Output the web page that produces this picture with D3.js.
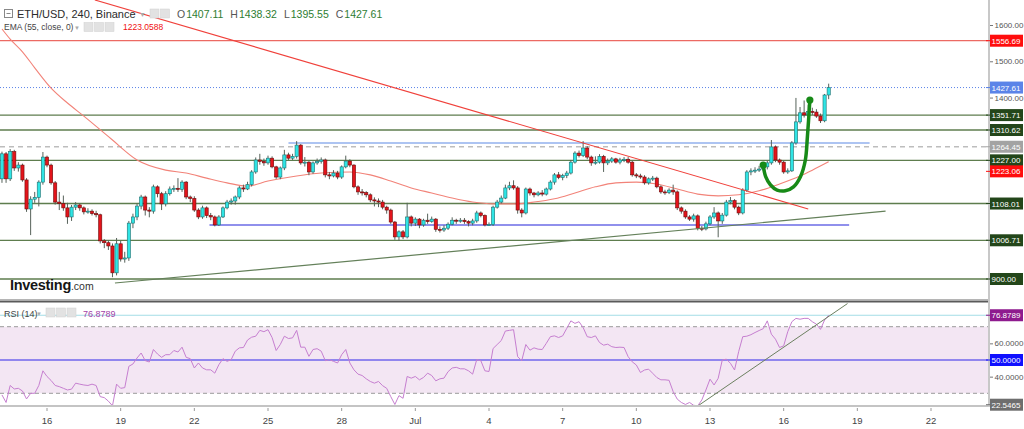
<!DOCTYPE html>
<html>
<head>
<meta charset="utf-8">
<script src="https://cdnjs.cloudflare.com/ajax/libs/d3/7.8.5/d3.min.js"></script>
<style>
body { margin: 0; background: #fff; }
svg { display: block; font-family: "Liberation Sans", Arial, sans-serif; }
</style>
</head>
<body>
<svg width="1024" height="429"></svg>
<script>
// ETH/USD 4h candles, Binance
var firstCandle = Date.UTC(2022, 5, 14, 4);
var stepMs = 4 * 3600 * 1000;

var opens = [1176,1245,1176,1251,1206,1214,1173,1093,1120,1125,
  1167,1236,1214,1165,1112,1108,1096,1071,1098,1104,
  1096,1085,1087,1080,1077,1005,1000,991,917,997,
  955,958,1054,1071,1101,1126,1090,1087,1154,1135,
  1107,1135,1148,1150,1147,1167,1126,1122,1090,1071,
  1096,1075,1071,1049,1071,1096,1112,1115,1126,1151,
  1148,1160,1195,1228,1224,1220,1233,1209,1181,1206,
  1242,1233,1238,1269,1220,1222,1195,1220,1224,1228,
  1187,1184,1192,1181,1209,1225,1214,1154,1140,1138,
  1132,1118,1115,1112,1098,1090,1057,1016,1030,1016,
  1071,1054,1065,1049,1062,1058,1065,1037,1035,1040,
  1051,1062,1060,1062,1058,1054,1060,1082,1075,1049,
  1050,1098,1112,1123,1151,1157,1151,1090,1082,1148,
  1137,1132,1137,1134,1148,1167,1187,1180,1185,1192,
  1222,1247,1240,1261,1236,1220,1222,1238,1220,1225,
  1231,1222,1228,1230,1222,1187,1184,1181,1165,1176,
  1178,1154,1140,1138,1145,1140,1096,1087,1071,1065,
  1074,1040,1038,1052,1071,1082,1060,1076,1112,1116,
  1098,1082,1145,1195,1198,1200,1203,1209,1220,1264,
  1228,1222,1195,1198,1275,1333,1358,1352,1362,1360,
  1349,1336,1407.11];

var highs = [1251,1250,1258,1256,1222,1218,1178,1128,1140,1172,
  1250,1240,1218,1170,1140,1130,1110,1104,1112,1108,
  1100,1095,1092,1088,1080,1010,1006,998,1013,1005,
  975,1060,1080,1108,1132,1130,1098,1160,1158,1140,
  1142,1155,1158,1178,1172,1170,1130,1128,1095,1102,
  1100,1082,1075,1076,1100,1118,1122,1130,1156,1160,
  1168,1200,1235,1245,1232,1240,1238,1212,1210,1256,
  1248,1245,1280,1272,1236,1225,1224,1232,1235,1232,
  1195,1200,1198,1213,1240,1230,1216,1158,1148,1142,
  1136,1125,1122,1118,1102,1094,1060,1034,1035,1110,
  1075,1070,1068,1066,1080,1072,1068,1045,1048,1056,
  1070,1066,1068,1068,1062,1066,1088,1086,1078,1056,
  1102,1118,1130,1160,1168,1172,1156,1095,1152,1152,
  1140,1142,1145,1152,1172,1192,1195,1190,1198,1228,
  1252,1254,1280,1266,1240,1238,1244,1242,1232,1236,
  1234,1234,1236,1236,1226,1192,1190,1186,1180,1184,
  1182,1158,1146,1150,1160,1144,1100,1092,1076,1080,
  1078,1046,1058,1076,1098,1086,1082,1118,1126,1120,
  1102,1150,1200,1205,1208,1212,1216,1226,1283,1268,
  1232,1226,1205,1280,1399,1374,1392,1380,1372,1368,
  1356,1410,1438.32];

var lows = [1165,1165,1170,1198,1196,1168,1085,1021,1110,1100,
  1160,1208,1160,1105,1090,1088,1052,1060,1090,1088,
  1078,1080,1075,1070,998,985,980,905,910,948,
  945,950,1040,1062,1092,1075,1070,1080,1125,1090,
  1100,1130,1140,1140,1140,1120,1112,1085,1065,1066,
  1068,1062,1045,1046,1068,1092,1105,1105,1120,1140,
  1145,1155,1190,1215,1212,1215,1205,1176,1175,1200,
  1228,1228,1232,1215,1210,1186,1190,1215,1218,1180,
  1175,1180,1175,1176,1205,1208,1150,1132,1130,1125,
  1112,1100,1098,1092,1080,1052,1008,1005,1010,1012,
  1045,1046,1040,1044,1052,1055,1030,1028,1030,1035,
  1048,1052,1055,1052,1045,1048,1055,1070,1045,1046,
  1046,1094,1108,1120,1145,1146,1080,1070,1078,1130,
  1125,1128,1128,1130,1144,1160,1175,1172,1178,1188,
  1218,1235,1236,1230,1212,1215,1218,1195,1214,1220,
  1218,1216,1222,1218,1182,1178,1176,1160,1160,1170,
  1150,1135,1132,1134,1132,1090,1080,1066,1060,1058,
  1034,1032,1034,1048,1066,1015,1052,1072,1106,1092,
  1076,1078,1140,1186,1192,1195,1198,1202,1215,1222,
  1215,1190,1190,1195,1270,1328,1345,1348,1352,1344,
  1330,1332,1395.55];

var closes = [1245,1176,1251,1206,1214,1173,1093,1120,1125,1167,
  1236,1214,1165,1112,1108,1096,1071,1098,1104,1096,
  1085,1087,1080,1077,1005,1000,991,917,997,955,
  958,1054,1071,1101,1126,1090,1087,1154,1135,1107,
  1135,1148,1150,1147,1167,1126,1122,1090,1071,1096,
  1075,1071,1049,1071,1096,1112,1115,1126,1151,1148,
  1160,1195,1228,1224,1220,1233,1209,1181,1206,1242,
  1233,1238,1269,1220,1222,1195,1220,1224,1228,1187,
  1184,1192,1181,1209,1225,1214,1154,1140,1138,1132,
  1118,1115,1112,1098,1090,1057,1016,1030,1016,1071,
  1054,1065,1049,1062,1058,1065,1037,1035,1040,1051,
  1062,1060,1062,1058,1054,1060,1082,1075,1049,1050,
  1098,1112,1123,1151,1157,1151,1090,1082,1148,1137,
  1132,1137,1134,1148,1167,1187,1180,1185,1192,1222,
  1247,1240,1261,1236,1220,1222,1238,1220,1225,1231,
  1222,1228,1230,1222,1187,1184,1181,1165,1176,1178,
  1154,1140,1138,1145,1140,1096,1087,1071,1065,1074,
  1040,1038,1052,1071,1082,1060,1076,1112,1116,1098,
  1082,1145,1195,1198,1200,1203,1209,1220,1264,1228,
  1222,1195,1198,1275,1333,1358,1352,1362,1360,1349,
  1336,1407.11,1427.61];

// EMA(55) read at sample candles
var emaIdx = [0,2,5,8,12,16,20,25,27,33,40,45,50,55,60,65,72,78,85,90,95,100,105,110,115,120,125,130,135,140,145,150,155,160,165,170,175,180,185,190,195,198,202];
var emaVal = [1589,1561,1526,1482,1426,1385,1349,1302,1283,1228,1200,1192,1178,1165,1156,1170,1184,1192,1195,1187,1170,1151,1137,1123,1112,1107,1107,1112,1121,1137,1154,1165,1167,1162,1148,1134,1129,1132,1143,1162,1184,1200,1223.0588];
var emaLast = 1223.0588;

var rsiVal = [29.0,24.5,34.7,32.6,33.0,31.4,26.6,30.0,30.0,34.7,
  43.5,40.1,37.7,34.7,34.0,33.0,32.0,32.5,36.1,35.5,
  35.0,34.7,35.5,34.7,28.0,27.4,25.3,22.5,35.5,33.0,
  33.4,46.2,47.6,51.2,54.2,49.6,48.8,56.3,53.6,51.6,
  53.2,53.2,55.7,54.8,57.7,51.6,50.8,45.2,48.2,45.2,
  44.1,44.1,42.1,47.2,50.8,49.2,50.2,55.3,57.3,57.5,
  62.0,63.7,64.3,67.8,67.0,68.2,63.5,55.7,59.3,64.3,
  62.9,63.3,67.8,57.7,57.7,52.2,56.3,56.8,55.3,49.6,
  50.2,49.2,48.2,53.2,56.3,48.2,44.1,41.5,40.7,38.7,
  37.1,36.1,37.1,34.6,33.0,28.0,23.3,28.6,27.0,40.1,
  39.1,40.1,38.1,39.5,42.1,40.7,37.5,38.7,39.1,43.0,
  45.2,45.6,44.7,44.7,43.5,41.5,50.2,49.6,43.5,43.1,
  56.9,59.3,61.7,67.4,67.8,68.2,52.0,49.6,59.3,55.9,
  57.3,56.5,56.3,60.0,64.0,64.5,63.5,64.5,69.0,73.5,
  72.0,73.0,69.5,64.0,63.5,64.5,60.5,58.9,59.5,58.0,
  57.5,57.7,57.5,52.0,48.9,47.0,42.5,44.0,44.5,42.0,
  39.5,38.1,38.1,37.8,31.0,26.5,24.5,23.3,24.5,22.8,
  22.5,26.0,32.0,38.5,35.0,39.0,50.0,50.5,48.0,44.0,
  55.0,64.0,64.3,65.2,66.5,67.7,68.8,73.5,65.5,62.5,
  57.5,58.5,67.0,73.0,75.0,74.5,75.0,75.0,73.0,71.5,
  68.4,74.0,76.8789];
var rsiLast = 76.8789;
var rsiLow = 22.5465;

var tickDates = ["2022-06-16","2022-06-19","2022-06-22","2022-06-25","2022-06-28","2022-07-01","2022-07-04","2022-07-07","2022-07-10","2022-07-13","2022-07-16","2022-07-19","2022-07-22"];
var tickLabels = ["16","19","22","25","28","Jul","4","7","10","13","16","19","22"];
var priceTicks = [1400,1500,1600];
var rsiTicks = [40,60];

var greenLevels = [1351.71,1310.62,1227.00,1108.01,1006.71,900.00];
var redLevel = 1556.69;
var prevClose = 1264.45;

// drawn lines (candle index, price)
var redTrendIdx = [22.7,197];
var redTrendPrice = [1669,1093];
var greenTrendIdx = [27.6,215.9];
var greenTrendPrice = [889,1087];
var topBandIdx = [70,212];
var topBandPrice = 1275;
var lowBandIdx = [50.7,207];
var lowBandPrice = 1049;
var arcIdx = [186.0,186.6,187.8,189.4,191.4,193.4,195.1,196.3,196.8,197.4];
var arcPrice = [1214,1182,1159,1145,1143,1154,1182,1228,1292,1393];
var rsiTrendIdx = [170.2,206.6];
var rsiTrendVal = [22.7,83.9];

var svg = d3.select("svg");

var x = d3.scaleUtc()
  .domain([new Date(Date.UTC(2022,5,16)), new Date(Date.UTC(2022,6,22))])
  .range([47, 931]);
var y = d3.scaleLinear().domain([900,1600]).range([279,25]);
var yr = d3.scaleLinear().domain([30,70]).range([393.3,326.7]);

function tOf(i) { return new Date(firstCandle + i * stepMs); }

var axisX = 989;

var defs = svg.append("defs");
defs.append("clipPath").attr("id","mainClip").append("rect")
  .attr("x",0).attr("y",0).attr("width",axisX).attr("height",300);
defs.append("clipPath").attr("id","rsiClip").append("rect")
  .attr("x",0).attr("y",303).attr("width",axisX).attr("height",103);

var main = svg.append("g").attr("clip-path","url(#mainClip)");

// horizontal levels
main.selectAll(".lvl").data(greenLevels).enter().append("line")
  .attr("x1",0).attr("x2",axisX)
  .attr("y1",function(d){ return y(d); }).attr("y2",function(d){ return y(d); })
  .attr("stroke","#5e7d4e").attr("stroke-width",1.3);

main.append("line").attr("x1",0).attr("x2",axisX)
  .attr("y1",y(redLevel)).attr("y2",y(redLevel))
  .attr("stroke","#e8453c").attr("stroke-width",1);

main.append("line").attr("x1",0).attr("x2",axisX)
  .attr("y1",y(prevClose)).attr("y2",y(prevClose))
  .attr("stroke","#bdbdbd").attr("stroke-width",1.3).attr("stroke-dasharray","5,4");

main.append("line").attr("x1",0).attr("x2",axisX)
  .attr("y1",y(closes[closes.length-1])).attr("y2",y(closes[closes.length-1]))
  .attr("stroke","#5b84e8").attr("stroke-width",1).attr("stroke-dasharray","1,2");

main.append("line")
  .attr("x1",x(tOf(topBandIdx[0]))).attr("x2",x(tOf(topBandIdx[1])))
  .attr("y1",y(topBandPrice)).attr("y2",y(topBandPrice))
  .attr("stroke","#adc4f2").attr("stroke-width",2);

main.append("line")
  .attr("x1",x(tOf(lowBandIdx[0]))).attr("x2",x(tOf(lowBandIdx[1])))
  .attr("y1",y(lowBandPrice)).attr("y2",y(lowBandPrice))
  .attr("stroke","#6b6be6").attr("stroke-width",1.5);

// EMA
var emaLine = d3.line()
  .x(function(d,i){ return x(tOf(emaIdx[i])); })
  .y(function(d){ return y(d); })
  .curve(d3.curveMonotoneX);
main.append("path").datum(emaVal).attr("d",emaLine)
  .attr("fill","none").attr("stroke","#f28379").attr("stroke-width",1.1);

// candles
var candles = d3.range(opens.length).map(function(i){
  return { t: tOf(i), o: opens[i], h: highs[i], l: lows[i], c: closes[i] };
});

var cg = main.append("g").selectAll("g").data(candles).enter().append("g");
cg.append("line")
  .attr("x1",function(d){ return x(d.t); }).attr("x2",function(d){ return x(d.t); })
  .attr("y1",function(d){ return y(d.h); }).attr("y2",function(d){ return y(d.l); })
  .attr("stroke","#56625a").attr("stroke-width",1);
cg.append("rect")
  .attr("x",function(d){ return x(d.t) - 1.6; })
  .attr("width",3.2)
  .attr("y",function(d){ return y(Math.max(d.o,d.c)); })
  .attr("height",function(d){ return Math.max(1, Math.abs(y(d.o) - y(d.c))); })
  .attr("fill",function(d){ return d.c >= d.o ? "#2fe4e4" : "#e3141b"; })
  .attr("stroke",function(d){ return d.c >= d.o ? "#1f6f6f" : "#6d0b0b"; })
  .attr("stroke-width",0.6);

// trend lines
main.append("line")
  .attr("x1",x(tOf(redTrendIdx[0]))).attr("y1",y(redTrendPrice[0]))
  .attr("x2",x(tOf(redTrendIdx[1]))).attr("y2",y(redTrendPrice[1]))
  .attr("stroke","#f0413b").attr("stroke-width",1.1);
main.append("line")
  .attr("x1",x(tOf(greenTrendIdx[0]))).attr("y1",y(greenTrendPrice[0]))
  .attr("x2",x(tOf(greenTrendIdx[1]))).attr("y2",y(greenTrendPrice[1]))
  .attr("stroke","#64805a").attr("stroke-width",1.2);

// hand drawn arc
var arcLine = d3.line()
  .x(function(d,i){ return x(tOf(arcIdx[i])); })
  .y(function(d){ return y(d); })
  .curve(d3.curveCatmullRom);
main.append("path").datum(arcPrice).attr("d",arcLine)
  .attr("fill","none").attr("stroke","#178a17").attr("stroke-width",3.5)
  .attr("stroke-linecap","round");
main.selectAll(".dot").data([0, arcIdx.length-1]).enter().append("circle")
  .attr("cx",function(k){ return x(tOf(arcIdx[k])); })
  .attr("cy",function(k){ return y(arcPrice[k]); })
  .attr("r",3.6).attr("fill","#178a17");

// RSI panel
var rsi = svg.append("g").attr("clip-path","url(#rsiClip)");
rsi.append("rect").attr("x",0).attr("width",axisX)
  .attr("y",yr(70)).attr("height",yr(30)-yr(70)).attr("fill","#f3e6f3");
rsi.selectAll(".band").data([70,30]).enter().append("line")
  .attr("x1",0).attr("x2",axisX)
  .attr("y1",function(d){ return yr(d); }).attr("y2",function(d){ return yr(d); })
  .attr("stroke","#9a9a9a").attr("stroke-dasharray","4,3");
rsi.append("line").attr("x1",0).attr("x2",axisX)
  .attr("y1",yr(50)).attr("y2",yr(50))
  .attr("stroke","#7066ec").attr("stroke-width",1.5);
rsi.append("line").attr("x1",0).attr("x2",axisX)
  .attr("y1",yr(rsiLast)).attr("y2",yr(rsiLast))
  .attr("stroke","#a3dde6").attr("stroke-width",1.2);

var rsiLine = d3.line()
  .x(function(d,i){ return x(tOf(i)); })
  .y(function(d){ return yr(d); });
rsi.append("path").datum(rsiVal).attr("d",rsiLine)
  .attr("fill","none").attr("stroke","#c67fd0").attr("stroke-width",1);

svg.append("line")
  .attr("x1",x(tOf(rsiTrendIdx[0]))).attr("y1",yr(rsiTrendVal[0]))
  .attr("x2",x(tOf(rsiTrendIdx[1]))).attr("y2",yr(rsiTrendVal[1]))
  .attr("stroke","#6c8060").attr("stroke-width",1);

// frame
svg.append("line").attr("x1",0).attr("x2",axisX).attr("y1",299.5).attr("y2",299.5)
  .attr("stroke","#b5b5b5");
svg.append("rect").attr("x",0).attr("y",300.5).attr("width",axisX).attr("height",2)
  .attr("fill","#5a5a5a");
svg.append("rect").attr("x",0).attr("y",405).attr("width",axisX + 2).attr("height",2)
  .attr("fill","#c4c4c4");
svg.append("rect").attr("x",axisX - 1).attr("y",0).attr("width",2).attr("height",407)
  .attr("fill","#c8c8c8");

// price axis
var pa = svg.append("g").attr("transform","translate(" + (axisX + 1) + ",0)")
  .call(d3.axisRight(y).tickValues(priceTicks).tickFormat(d3.format(".2f")).tickSize(3).tickPadding(1.5));
pa.select(".domain").remove();
pa.selectAll("line").attr("stroke","#777");
pa.selectAll("text").attr("fill","#555").attr("font-size","8px")
  .attr("font-family","'Liberation Sans', Arial, sans-serif");

var ra = svg.append("g").attr("transform","translate(" + (axisX + 1) + ",0)")
  .call(d3.axisRight(yr).tickValues(rsiTicks).tickFormat(d3.format(".4f")).tickSize(3).tickPadding(1.5));
ra.select(".domain").remove();
ra.selectAll("line").attr("stroke","#777");
ra.selectAll("text").attr("fill","#555").attr("font-size","8px")
  .attr("font-family","'Liberation Sans', Arial, sans-serif");

// value labels on the price axis
var priceLabels = [
  { v: redLevel, bg: "#ff0d0d" },
  { v: closes[closes.length-1], bg: "#5b84e8" },
  { v: greenLevels[0], bg: "#23461a" },
  { v: greenLevels[1], bg: "#23461a" },
  { v: prevClose, bg: "#a3a3a3" },
  { v: greenLevels[2], bg: "#23461a" },
  { v: emaLast, bg: "#ff0d0d" },
  { v: greenLevels[3], bg: "#23461a" },
  { v: greenLevels[4], bg: "#23461a" },
  { v: greenLevels[5], bg: "#23461a" }
];
var lastY = -100;
priceLabels.forEach(function(d){
  d.y = Math.max(y(d.v), lastY + 11);
  lastY = d.y;
});

function axisLabel(yy, txt, bg) {
  var g = svg.append("g");
  g.append("line").attr("x1",axisX - 3).attr("x2",axisX + 1).attr("y1",yy).attr("y2",yy)
    .attr("stroke",bg);
  g.append("rect").attr("x",axisX + 1).attr("y",yy - 6).attr("width",33).attr("height",12)
    .attr("fill",bg);
  g.append("text").attr("x",axisX + 2.5).attr("y",yy + 3)
    .attr("fill","#fff").attr("font-size","8px").text(txt);
}
priceLabels.forEach(function(d){ axisLabel(d.y, d3.format(".2f")(d.v), d.bg); });
axisLabel(yr(rsiLast), d3.format(".4f")(rsiLast), "#8e1a8e");
axisLabel(yr(50), d3.format(".4f")(50), "#1010ff");
axisLabel(yr(rsiLow) - 1, d3.format(".4f")(rsiLow), "#6e6e6e");

// time axis
var ta = svg.append("g");
tickDates.forEach(function(s, k){
  var xx = x(new Date(s + "T00:00:00Z"));
  ta.append("line").attr("x1",xx).attr("x2",xx).attr("y1",408).attr("y2",411)
    .attr("stroke","#999");
  ta.append("text").attr("x",xx).attr("y",424).attr("text-anchor","middle")
    .attr("font-size","9.5px").attr("fill","#444")
    .attr("font-family","'Liberation Sans Narrow', 'Arial Narrow', sans-serif")
    .text(tickLabels[k]);
});

// legends
function icons(x0, yy, n) {
  for (var k = 0; k < n; k++) {
    svg.append("rect").attr("x",x0 + k * 10.5).attr("y",yy).attr("width",9).attr("height",9)
      .attr("fill","#e2e2e2").attr("stroke","#d0d0d0").attr("stroke-width",0.5);
  }
}

svg.append("rect").attr("x",4.5).attr("y",9.5).attr("width",8).attr("height",8)
  .attr("fill","none").attr("stroke","#888");
svg.append("line").attr("x1",6.5).attr("x2",10.5).attr("y1",13.5).attr("y2",13.5)
  .attr("stroke","#888");
svg.append("text").attr("x",17).attr("y",18).attr("font-size","11px").attr("fill","#2b2b2b")
  .text("ETH/USD, 240, Binance");
svg.append("text").attr("x",139).attr("y",17).attr("font-size","7px").attr("fill","#aaa").text("▼");
icons(150, 9, 2);

var ohlc = svg.append("text").attr("x",177).attr("y",18).attr("font-size","10.5px");
var ohlcNames = ["O","H","L","C"];
var ohlcVals = [opens[opens.length-1], highs[highs.length-1], lows[lows.length-1], closes[closes.length-1]];
ohlcNames.forEach(function(n, k){
  ohlc.append("tspan").attr("fill","#555").attr("dx", k === 0 ? 0 : 7).text(n);
  ohlc.append("tspan").attr("fill","#2e7d32").attr("dx",1).text(d3.format(".2f")(ohlcVals[k]));
});

svg.append("text").attr("x",4).attr("y",30).attr("font-size","8.5px").attr("fill","#444")
  .text("EMA (55, close, 0)");
svg.append("text").attr("x",74).attr("y",29.5).attr("font-size","6px").attr("fill","#aaa").text("▼");
icons(84, 22.5, 3);
svg.append("text").attr("x",123).attr("y",30).attr("font-size","8.5px").attr("fill","#f01010")
  .text(d3.format(".4f")(emaLast));

svg.append("text").attr("x",4).attr("y",316.5).attr("font-size","9px").attr("fill","#444")
  .text("RSI (14)");
svg.append("text").attr("x",36).attr("y",316).attr("font-size","6px").attr("fill","#aaa").text("▼");
icons(46, 308, 3);
svg.append("text").attr("x",83).attr("y",316.5).attr("font-size","9px").attr("fill","#a23fa8")
  .text(d3.format(".4f")(rsiLast));

// logo
var logo = svg.append("text").attr("x",10).attr("y",290);
logo.append("tspan").attr("font-size","14.5px").attr("font-weight","bold").attr("fill","#161616")
  .attr("letter-spacing","-0.3").text("Investing");
logo.append("tspan").attr("font-size","10.5px").attr("fill","#333").text(".com");
</script>
</body>
</html>
